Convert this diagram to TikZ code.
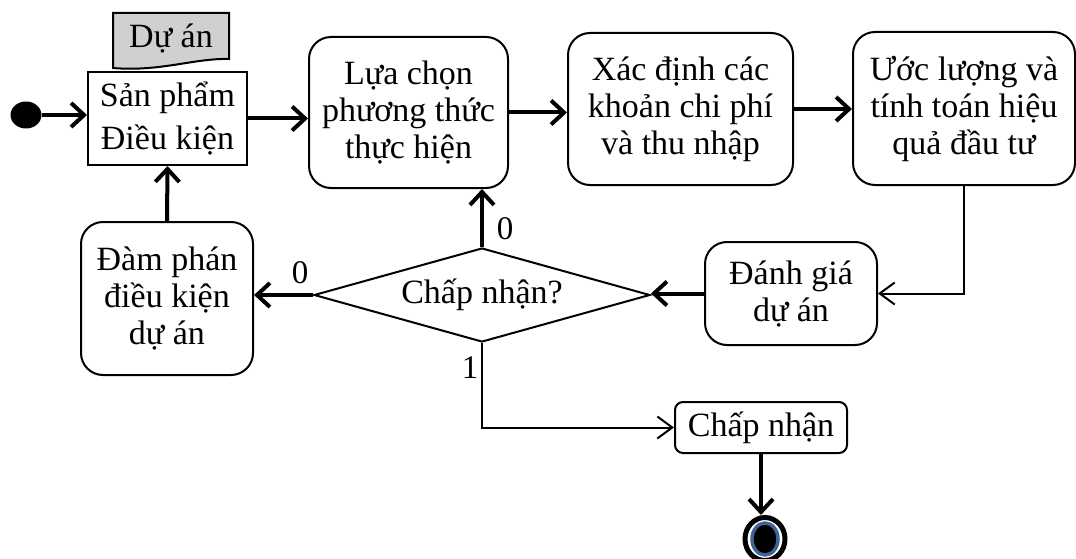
\documentclass[tikz,border=0pt]{standalone}
\usepackage{fontspec}
\setmainfont{Liberation Serif}
\usetikzlibrary{arrows.meta}
\usetikzlibrary{shapes.geometric}

\definecolor{docgray}{RGB}{208,208,208}
\definecolor{endblue}{RGB}{62,100,150}

\tikzset{
  box/.style={draw, line width=2pt, align=center, inner sep=0pt, font=\fontsize{34}{37}\selectfont},
  actbox/.style={box, rounded corners=22pt},
  thickarr/.style={line width=4pt, -{Straight Barb[length=13pt,width=24pt]}},
  thinarr/.style={line width=2pt, -{Straight Barb[length=15pt,width=22pt]}},
  lbl/.style={font=\fontsize{33}{34}\selectfont, inner sep=0pt},
  startdot/.style={ellipse, fill, minimum width=31pt, minimum height=27pt, inner sep=0pt},
  endring/.style={ellipse, draw, line width=5pt, fill=white, minimum width=40pt, minimum height=43pt, inner sep=0pt}
}

\begin{document}
\begin{tikzpicture}[x=1pt,y=-1pt]
  \useasboundingbox (0,0) rectangle (1076,559);

  % start and object flow
  \node[startdot] (start) at (26,115) {};
  \filldraw[fill=docgray, line width=2pt] (113,68) -- (113,13) -- (229,13) -- (229,59)
    .. controls (195,58) and (160,72) .. (113,68) -- cycle;
  \node[font=\fontsize{34}{36}\selectfont, inner sep=0pt] (duan) at (171,38) {Dự án};
  \node[box, minimum width=159pt, minimum height=93pt] (sanpham) at (167.5,118.5) {Sản phẩm\\[6pt]Điều kiện};

  % activities
  \node[actbox, minimum width=199pt, minimum height=151pt] (chon) at (408.5,112.5) {Lựa chọn\\phương thức\\thực hiện};
  \node[actbox, minimum width=225pt, minimum height=152pt] (xacdinh) at (680.5,109) {Xác định các\\khoản chi phí\\và thu nhập};
  \node[actbox, minimum width=222pt, minimum height=153pt] (uocluong) at (964,108.5) {Ước lượng và\\tính toán hiệu\\quả đầu tư};
  \node[actbox, minimum width=172pt, minimum height=103pt] (danhgia) at (791,293.5) {Đánh giá\\dự án};
  \node[actbox, minimum width=172pt, minimum height=153pt] (damphan) at (167,298.5) {Đàm phán\\điều kiện\\dự án};
  \node[box, diamond, aspect=3.5, minimum width=336pt, minimum height=94pt] (chapnhanq) at (482,295) {Chấp nhận?};
  \node[actbox, rounded corners=8pt, minimum width=172pt, minimum height=51pt] (chapnhan) at (761,427.5) {Chấp nhận};

  % end
  \node[endring] (stop) at (765,539) {};
  \fill[black, draw=endblue, line width=3.5pt] (stop.center) ellipse [x radius=13pt, y radius=16pt];

  % flows
  \draw[thickarr] (start.east) -- (start.east -| sanpham.west);
  \draw[thickarr] (sanpham.east) -- (sanpham.east -| chon.west);
  \draw[thickarr] (chon.east) -- (chon.east -| xacdinh.west);
  \draw[thickarr] (xacdinh.east) -- (xacdinh.east -| uocluong.west);
  \draw[thinarr] (uocluong.south) |- (danhgia.east);
  \draw[thickarr] (danhgia.west) -- (danhgia.west -| chapnhanq.east);
  \draw[thickarr] (chapnhanq.north) -- (chapnhanq.north |- chon.south);
  \draw[thickarr] (chapnhanq.west) -- (chapnhanq.west -| damphan.east);
  \draw[thickarr] (damphan.north) -- (sanpham.south);
  \draw[thinarr] (chapnhanq.south) |- (chapnhan.west);
  \draw[thickarr] (chapnhan.south) -- (chapnhan.south |- stop.north);

  % guard labels
  \node[lbl] (khongtren) at (505,229) {0};
  \node[lbl] (khongtrai) at (300,273) {0};
  \node[lbl] (co) at (470,368) {1};

\end{tikzpicture}
\end{document}
